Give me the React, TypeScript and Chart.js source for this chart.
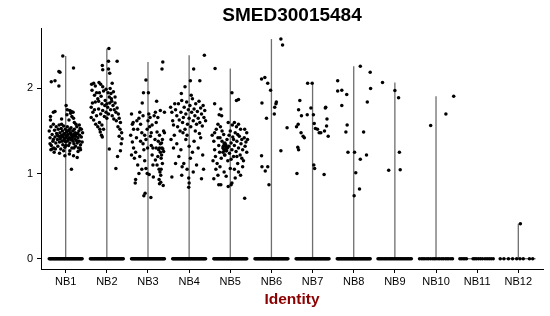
import React, { useEffect, useRef } from "react";
import { Chart, registerables } from "chart.js";

Chart.register(...registerables);

const chartTitle = "SMED30015484";
const xAxisTitle = "Identity";
const categories = ["NB1", "NB2", "NB3", "NB4", "NB5", "NB6", "NB7", "NB8", "NB9", "NB10", "NB11", "NB12"];
const yTickValues = [0, 1, 2];

// [jitter offset, expression] for non-zero cells
const nb1Points: [number, number][] = [
  [-0.07, 2.38], [0.19, 2.24], [-0.165, 2.2], [-0.14, 2.19], [-0.35, 2.08], [-0.26, 2.09], [-0.165, 2.03],
  [0.01, 1.8], [0.04, 1.75], [0.1, 1.74], [0.14, 1.73], [0.12, 1.71], [0.18, 1.72], [-0.26, 1.73], [-0.3, 1.72],
  [-0.37, 1.67], [-0.37, 1.63], [-0.1, 1.64], [0.15, 1.67], [0.08, 1.63], [0.19, 1.65], [0.03, 1.69], [0.21, 1.6],
  [0.14, 1.05], [-0.02, 1.21], [0.28, 1.19], [-0.15, 1.24], [-0.28, 1.25], [-0.36, 1.28], [0.36, 1.28], [0.09, 1.23], [0.19, 1.21],
  [-0.4, 1.5], [-0.38, 1.42], [-0.36, 1.55], [-0.35, 1.33], [-0.33, 1.46], [-0.31, 1.38], [-0.3, 1.58], [-0.29, 1.3],
  [-0.27, 1.51], [-0.26, 1.43], [-0.24, 1.36], [-0.23, 1.55], [-0.22, 1.47], [-0.2, 1.4], [-0.19, 1.32], [-0.18, 1.52],
  [-0.17, 1.44], [-0.16, 1.57], [-0.15, 1.37], [-0.14, 1.48], [-0.13, 1.41], [-0.12, 1.29], [-0.11, 1.53], [-0.1, 1.45],
  [-0.09, 1.38], [-0.08, 1.5], [-0.07, 1.34], [-0.06, 1.43], [-0.05, 1.56], [-0.04, 1.4], [-0.03, 1.47], [-0.02, 1.31],
  [-0.01, 1.52], [0.0, 1.42], [0.01, 1.37], [0.02, 1.49], [0.03, 1.44], [0.04, 1.55], [0.05, 1.39], [0.06, 1.46],
  [0.07, 1.33], [0.08, 1.51], [0.09, 1.42], [0.1, 1.36], [0.11, 1.48], [0.12, 1.4], [0.13, 1.54], [0.14, 1.45],
  [0.15, 1.3], [0.16, 1.43], [0.17, 1.5], [0.18, 1.38], [0.19, 1.46], [0.2, 1.35], [0.21, 1.52], [0.22, 1.41],
  [0.23, 1.48], [0.24, 1.32], [0.25, 1.44], [0.26, 1.39], [0.27, 1.55], [0.28, 1.36], [0.29, 1.47], [0.3, 1.42],
  [0.31, 1.3], [0.32, 1.5], [0.33, 1.38], [0.34, 1.45], [0.35, 1.53], [0.36, 1.34], [0.38, 1.43], [0.4, 1.37], [0.41, 1.48],
  [-0.05, 1.46], [0.02, 1.45], [0.07, 1.41], [0.12, 1.47], [0.17, 1.44], [-0.12, 1.43], [0.22, 1.45], [0.05, 1.5],
  [0.1, 1.52], [-0.02, 1.38], [0.15, 1.4], [0.26, 1.47], [-0.2, 1.45], [0.3, 1.38], [-0.3, 1.4], [0.0, 1.33],
  [0.2, 1.3], [0.35, 1.3], [-0.25, 1.29], [0.1, 1.27], [0.3, 1.26], [-0.05, 1.27], [0.25, 1.58], [-0.1, 1.58],
  [0.33, 1.57], [-0.38, 1.35], [0.38, 1.52], [-0.33, 1.29],
];
const nb2Points: [number, number][] = [
  [0.05, 2.47], [-0.11, 2.27], [0.04, 2.32], [0.25, 2.32], [-0.1, 2.22], [0.04, 2.23], [0.07, 2.18], [-0.37, 2.05],
  [-0.32, 2.06], [-0.19, 2.07], [-0.15, 2.05], [-0.1, 2.02], [0.13, 2.06],
  [-0.36, 1.98], [-0.3, 1.92], [-0.28, 1.84], [-0.35, 1.83], [-0.22, 1.88], [-0.18, 1.95], [-0.14, 1.91], [-0.08, 1.97],
  [-0.04, 1.86], [0.0, 1.82], [0.03, 1.95], [0.06, 1.9], [0.08, 2.0], [0.1, 1.94], [0.12, 1.85], [0.15, 1.8],
  [0.02, 1.78], [-0.05, 1.8], [0.18, 1.75], [0.22, 1.72], [0.25, 1.77], [0.28, 1.7], [0.2, 1.83], [0.3, 1.65],
  [0.33, 1.6], [-0.38, 1.78], [-0.34, 1.72], [-0.3, 1.75], [-0.25, 1.68], [-0.2, 1.76], [-0.15, 1.7], [-0.1, 1.74],
  [-0.06, 1.67], [-0.02, 1.72], [0.04, 1.7], [0.09, 1.75], [0.13, 1.68], [0.17, 1.64], [0.23, 1.62], [-0.32, 1.63],
  [-0.27, 1.58], [-0.22, 1.55], [-0.18, 1.6], [-0.12, 1.57], [-0.08, 1.52], [-0.16, 1.49], [-0.13, 1.45], [-0.38, 1.66],
  [0.27, 1.55], [0.32, 1.52], [0.36, 1.48], [0.3, 1.44], [0.37, 1.41], [0.35, 1.35], [0.26, 1.2], [0.33, 1.27],
  [0.06, 1.29], [0.22, 1.06], [-0.11, 1.43], [-0.17, 1.52], [0.11, 1.88], [-0.02, 1.99], [0.16, 1.96], [-0.25, 1.95],
  [-0.12, 1.82], [0.07, 1.83], [-0.28, 2.03], [0.2, 1.9], [0.0, 1.65], [-0.2, 1.85],
];
const nb3Points: [number, number][] = [
  [0.36, 2.31], [0.34, 2.23], [-0.05, 2.1], [-0.11, 1.95], [0.01, 1.95], [0.21, 1.85], [-0.14, 1.83],
  [-0.4, 1.7], [-0.36, 1.6], [-0.42, 1.45], [-0.38, 1.37], [-0.35, 1.3], [-0.4, 1.22], [-0.33, 1.18], [-0.3, 1.25],
  [-0.28, 1.42], [-0.25, 1.52], [-0.22, 1.65], [-0.2, 1.72], [-0.18, 1.58], [-0.15, 1.48], [-0.12, 1.35], [-0.1, 1.28],
  [-0.08, 1.15], [-0.05, 1.06], [-0.02, 1.0], [0.0, 1.62], [0.02, 1.7], [0.04, 1.55], [0.06, 1.44], [0.08, 1.33],
  [0.1, 1.22], [0.12, 1.1], [0.15, 1.68], [0.18, 1.72], [0.2, 1.6], [0.22, 1.49], [0.25, 1.38], [0.28, 1.3],
  [0.3, 1.25], [0.32, 1.18], [0.35, 1.12], [0.38, 1.5], [0.4, 1.48], [0.36, 1.29], [0.33, 1.36], [0.29, 1.02],
  [0.31, 0.98], [0.27, 0.93], [0.37, 0.86], [0.28, 0.88], [0.31, 0.9], [0.13, 0.96], [0.03, 0.99], [0.32, 1.05],
  [0.27, 1.05], [-0.3, 0.93], [-0.31, 0.89], [-0.1, 0.74], [0.07, 0.72], [-0.07, 0.77], [-0.25, 1.1], [-0.2, 1.2],
  [-0.15, 1.05], [-0.05, 1.4], [-0.02, 1.52], [0.1, 1.57], [0.17, 1.4], [0.24, 1.2], [0.3, 1.35], [0.35, 1.4],
  [-0.35, 1.52], [-0.27, 1.62], [-0.12, 1.68], [0.05, 1.66], [0.12, 1.3], [0.22, 1.1], [0.26, 1.28], [0.33, 1.22],
  [0.38, 1.26], [-0.18, 1.38], [-0.08, 1.45], [0.08, 1.48], [0.2, 1.3], [0.28, 1.45], [0.34, 1.3], [-0.38, 1.58],
  [0.4, 1.72], [0.3, 1.74], [0.24, 1.66], [-0.01, 1.3], [-0.22, 1.0], [0.18, 1.16],
];
const nb4Points: [number, number][] = [
  [0.37, 2.39], [0.11, 2.23], [0.03, 2.09], [0.26, 2.09], [-0.1, 2.02], [-0.19, 1.94],
  [-0.45, 1.78], [-0.42, 1.72], [-0.4, 1.62], [-0.38, 1.57], [-0.36, 1.45], [-0.33, 1.75], [-0.3, 1.68], [-0.28, 1.55],
  [-0.26, 1.82], [-0.24, 1.63], [-0.22, 1.5], [-0.2, 1.72], [-0.18, 1.86], [-0.16, 1.6], [-0.14, 1.66], [-0.12, 1.78],
  [-0.1, 1.52], [-0.08, 1.7], [-0.06, 1.84], [-0.04, 1.58], [-0.02, 1.75], [0.0, 1.65], [0.02, 1.8], [0.04, 1.55],
  [0.06, 1.72], [0.08, 1.88], [0.1, 1.62], [0.12, 1.76], [0.14, 1.68], [0.16, 1.82], [0.18, 1.58], [0.2, 1.73],
  [0.22, 1.65], [0.24, 1.85], [0.26, 1.6], [0.28, 1.77], [0.3, 1.7], [0.32, 1.56], [0.34, 1.8], [0.36, 1.66],
  [0.38, 1.74], [0.4, 1.62], [-0.35, 1.82], [0.05, 1.92], [-0.15, 1.48], [0.15, 1.5], [0.25, 1.47], [-0.05, 1.45],
  [-0.44, 1.4], [-0.38, 1.3], [-0.3, 1.35], [-0.25, 1.2], [-0.2, 1.28], [-0.13, 1.12], [-0.08, 1.4], [0.0, 1.32],
  [0.03, 1.18], [0.08, 1.25], [0.12, 1.38], [0.18, 1.1], [0.22, 1.3], [0.28, 1.42], [0.33, 1.22], [-0.33, 1.12],
  [-0.17, 1.08], [-0.18, 0.98], [0.3, 0.94], [-0.01, 0.95], [0.0, 0.89], [-0.01, 0.84], [0.1, 1.02], [-0.42, 0.96],
  [0.35, 1.05], [-0.05, 1.05],
];
const nb5Points: [number, number][] = [
  [-0.37, 2.235], [0.04, 1.95], [0.15, 1.86], [0.2, 1.87], [-0.38, 1.82], [-0.23, 1.76], [-0.27, 1.69], [-0.21, 1.68],
  [0.35, 0.71], [-0.28, 0.87], [-0.23, 0.87], [-0.05, 0.85], [0.02, 0.87], [0.04, 0.89], [-0.4, 0.94],
  [-0.44, 1.45], [-0.4, 1.38], [-0.38, 1.28], [-0.36, 1.2], [-0.34, 1.52], [-0.32, 1.12], [-0.3, 1.42], [-0.28, 1.33],
  [-0.26, 1.25], [-0.24, 1.55], [-0.22, 1.18], [-0.2, 1.38], [-0.18, 1.3], [-0.16, 1.46], [-0.14, 1.22], [-0.12, 1.34],
  [-0.1, 1.27], [-0.08, 1.4], [-0.06, 1.15], [-0.04, 1.32], [-0.02, 1.24], [0.0, 1.5], [0.02, 1.36], [0.04, 1.28],
  [0.06, 1.43], [0.08, 1.2], [0.1, 1.33], [0.12, 1.48], [0.14, 1.26], [0.16, 1.38], [0.18, 1.12], [0.2, 1.3],
  [0.22, 1.44], [0.24, 1.22], [0.26, 1.35], [0.28, 1.4], [0.3, 1.28], [0.32, 1.15], [0.34, 1.42], [0.36, 1.32],
  [0.38, 1.37], [0.4, 1.25], [0.42, 1.4],
  [-0.17, 1.32], [-0.15, 1.35], [-0.13, 1.36], [-0.11, 1.34], [-0.1, 1.31], [-0.12, 1.28], [-0.14, 1.27], [-0.16, 1.29],
  [-0.09, 1.27], [-0.18, 1.25], [-0.13, 1.22], [-0.07, 1.3],
  [-0.3, 1.58], [0.05, 1.57], [0.15, 1.55], [-0.05, 1.6], [0.1, 1.6], [0.2, 1.58], [0.25, 1.52], [-0.2, 1.5],
  [-0.35, 1.05], [-0.25, 1.08], [-0.15, 1.02], [0.0, 1.06], [0.1, 1.05], [0.2, 1.02], [0.3, 1.08], [-0.42, 1.15],
  [0.25, 0.98], [-0.1, 0.97], [0.12, 0.95], [-0.3, 0.98], [0.35, 1.52], [-0.03, 1.45], [0.08, 1.4], [0.18, 1.46],
  [-0.25, 1.42], [0.28, 1.18], [0.02, 1.17], [-0.38, 1.48], [0.4, 1.48], [0.16, 1.2],
];
const nb6Points: [number, number][] = [
  [0.23, 2.58], [0.27, 2.51], [-0.24, 2.11], [-0.16, 2.13], [-0.09, 2.06], [-0.02, 1.98], [-0.23, 1.83], [0.11, 1.82],
  [0.12, 1.84], [0.08, 1.78], [-0.12, 1.65], [0.07, 1.7], [0.38, 1.54], [0.23, 1.27], [-0.24, 1.21], [-0.23, 1.08],
  [-0.15, 1.03], [-0.09, 1.08], [-0.06, 0.87],
];
const nb7Points: [number, number][] = [
  [-0.12, 2.06], [-0.01, 2.06], [-0.31, 1.86], [-0.34, 1.75], [-0.04, 1.77], [-0.13, 1.69], [-0.27, 1.68], [0.02, 1.69],
  [0.04, 1.59], [-0.39, 1.55], [-0.35, 1.58], [-0.28, 1.48], [-0.23, 1.44], [-0.2, 1.42], [0.12, 1.52], [0.07, 1.53],
  [-0.36, 1.31], [-0.34, 1.28], [0.03, 1.1], [-0.38, 1.0], [0.31, 1.77], [0.32, 1.78], [0.35, 1.64], [0.34, 1.56],
  [0.29, 1.5], [0.38, 1.44], [0.2, 1.48], [0.16, 1.48], [0.05, 1.06], [0.28, 0.99],
];
const nb8Points: [number, number][] = [
  [0.16, 2.26], [0.4, 2.19], [-0.39, 2.09], [-0.39, 1.97], [-0.29, 1.98], [-0.17, 1.93], [0.41, 2.0], [-0.29, 1.8],
  [0.33, 1.84], [-0.16, 1.57], [-0.19, 1.49], [0.24, 1.49], [-0.14, 1.25], [0.02, 1.25], [0.31, 1.22], [0.16, 1.17],
  [0.05, 1.01], [0.14, 0.82], [0.01, 0.74],
];
const nb9Points: [number, number][] = [
  [-0.3, 2.07], [0.0, 1.975], [0.09, 1.89], [0.11, 1.25], [0.13, 1.045], [-0.15, 1.04],
];
const nb10Points: [number, number][] = [[-0.13, 1.565], [0.24, 1.7], [0.43, 1.91]];
const nb11Points: [number, number][] = [];
const nb12Points: [number, number][] = [[0.05, 0.41]];

// jitter offsets of the cells with zero expression
const denseZeroOffsets = [
  -0.4, -0.38, -0.36, -0.34, -0.32, -0.3, -0.28, -0.26, -0.24, -0.22, -0.2, -0.18, -0.16, -0.14, -0.12, -0.1, -0.08,
  -0.06, -0.04, -0.02, 0.0, 0.02, 0.04, 0.06, 0.08, 0.1, 0.12, 0.14, 0.16, 0.18, 0.2, 0.22, 0.24, 0.26, 0.28, 0.3,
  0.32, 0.34, 0.36, 0.38, 0.4,
];
const nb9ZeroOffsets = [
  -0.41, -0.38, -0.35, -0.32, -0.29, -0.26, -0.23, -0.2, -0.17, -0.14, -0.11, -0.08, -0.05, -0.02, 0.01, 0.04, 0.07,
  0.1, 0.13, 0.16, 0.19, 0.22, 0.25, 0.28, 0.31, 0.34, 0.37, 0.4,
];
const nb10ZeroOffsets = [
  -0.4, -0.35, -0.31, -0.27, -0.22, -0.18, -0.13, -0.08, -0.04, 0.0, 0.05, 0.09, 0.14, 0.18, 0.23, 0.27, 0.31, 0.36, 0.4,
];
const nb11ZeroOffsets = [-0.42, -0.38, -0.34, -0.3, -0.26, -0.1, -0.06, -0.02, 0.03, 0.08, 0.13, 0.19, 0.24, 0.29, 0.34, 0.39];
const nb12ZeroOffsets = [-0.44, -0.35, -0.24, -0.14, -0.04, 0.04, 0.12, 0.27, 0.35];

const groupPoints = [nb1Points, nb2Points, nb3Points, nb4Points, nb5Points, nb6Points, nb7Points, nb8Points, nb9Points, nb10Points, nb11Points, nb12Points];
const groupZeros = [
  denseZeroOffsets, denseZeroOffsets, denseZeroOffsets, denseZeroOffsets, denseZeroOffsets, denseZeroOffsets,
  denseZeroOffsets, denseZeroOffsets, nb9ZeroOffsets, nb10ZeroOffsets, nb11ZeroOffsets, nb12ZeroOffsets,
];

const FONT = '"Liberation Sans", Arial, Helvetica, sans-serif';

export default function App() {
  const ref = useRef<HTMLCanvasElement | null>(null);
  useEffect(() => {
    document.body.style.margin = "0";
    const canvas = ref.current;
    if (!canvas) return;

    const points: { x: number; y: number }[] = [];
    const violinSets: any[] = [];
    categories.forEach((_, i) => {
      const c = i + 1;
      groupZeros[i].forEach((dx) => points.push({ x: c + dx, y: 0 }));
      groupPoints[i].forEach(([dx, y]) => points.push({ x: c + dx, y }));
      const max = groupPoints[i].reduce((m, p) => Math.max(m, p[1]), 0);
      violinSets.push({
        type: "line",
        data: [{ x: c - 0.42, y: 0 }, { x: c + 0.42, y: 0 }],
        borderColor: "#444",
        borderWidth: 1,
        pointRadius: 0,
        order: 2,
      });
      if (max > 0) {
        violinSets.push({
          type: "line",
          data: [{ x: c, y: 0 }, { x: c, y: max }],
          borderColor: "#6e6e6e",
          borderWidth: 1.3,
          pointRadius: 0,
          order: 1,
        });
      }
    });

    const textPlugin = {
      id: "texts",
      afterDraw(chart: any) {
        const { ctx, chartArea } = chart;
        const cx = (chartArea.left + chartArea.right) / 2;
        ctx.save();
        ctx.textAlign = "center";
        ctx.textBaseline = "middle";
        ctx.fillStyle = "#000";
        ctx.font = `bold 19px ${FONT}`;
        ctx.fillText(chartTitle, cx, 16);
        ctx.fillStyle = "#8B0000";
        ctx.font = `bold 15.5px ${FONT}`;
        ctx.fillText(xAxisTitle, cx, 300);
        ctx.restore();
      },
    };

    const gridOpts = {
      display: true,
      drawOnChartArea: false,
      drawTicks: true,
      tickLength: 4,
      tickColor: "#000",
      tickWidth: 1,
      color: "#000",
    };

    const chart = new Chart(canvas, {
      type: "scatter",
      data: {
        datasets: [
          {
            type: "scatter",
            data: points,
            pointRadius: 1.75,
            pointBackgroundColor: "#000",
            pointBorderWidth: 0,
            pointHoverRadius: 1.75,
            order: 0,
          } as any,
          ...violinSets,
        ],
      },
      options: {
        responsive: false,
        animation: false,
        events: [],
        layout: { padding: { top: 28, right: 7, left: 0, bottom: 0 } },
        plugins: { legend: { display: false }, tooltip: { enabled: false }, title: { display: false } },
        scales: {
          x: {
            type: "linear",
            min: 0.4,
            max: 12.6,
            afterBuildTicks: (s: any) => {
              s.ticks = categories.map((_, i) => ({ value: i + 1 }));
            },
            afterFit: (s: any) => {
              s.height = 47;
            },
            ticks: {
              autoSkip: false,
              maxRotation: 0,
              padding: 2,
              color: "#000",
              font: { family: FONT, size: 11 },
              callback: (v: any) => categories[Math.round(Number(v)) - 1] ?? "",
            },
            grid: gridOpts,
            border: { display: true, color: "#000", width: 1 },
          },
          y: {
            type: "linear",
            min: -0.12,
            max: 2.71,
            afterBuildTicks: (s: any) => {
              s.ticks = yTickValues.map((v) => ({ value: v }));
            },
            afterFit: (s: any) => {
              s.width = 41;
            },
            ticks: {
              padding: 4,
              color: "#000",
              font: { family: FONT, size: 11 },
              callback: (v: any) => String(v),
            },
            grid: gridOpts,
            border: { display: true, color: "#000", width: 1 },
          },
        },
      },
      plugins: [textPlugin],
    });
    return () => chart.destroy();
  }, []);

  return (
    <div style={{ width: 550, height: 316, overflow: "hidden", background: "#fff" }}>
      <canvas ref={ref} width={550} height={316} style={{ display: "block", width: 550, height: 316 }} />
    </div>
  );
}
